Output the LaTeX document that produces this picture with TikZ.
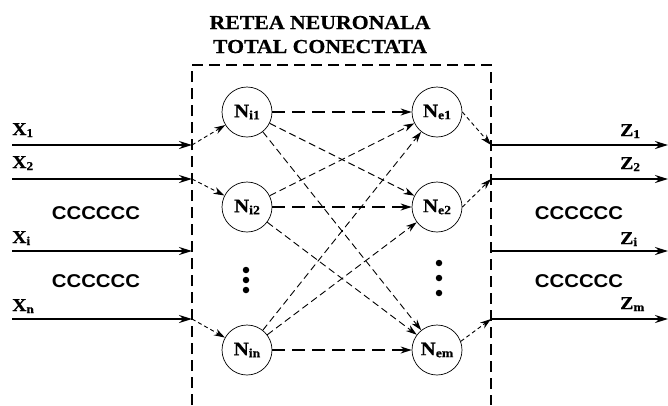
\documentclass[tikz,border=0pt]{standalone}
\usepackage{fontspec}
\usetikzlibrary{arrows.meta}
\newfontfamily\labelserif[FakeStretch=1.1, FakeBold=0.6]{Liberation Serif}
\newfontfamily\labelsans[FakeStretch=1.1]{Liberation Sans}
% main letter with a lowered index: {letter}{index}{size}{index size}
\newcommand\idxlabel[4]{{\fontsize{#3}{#3}\selectfont #1}\raisebox{-2pt}{\fontsize{#4}{#4}\selectfont #2}}

\begin{document}
\begin{tikzpicture}[x=1pt,y=-1pt,
  neuron/.style={draw, circle, minimum size=50pt, inner sep=0pt, line width=0.7pt,
                 font=\labelserif\bfseries},
  iolabel/.style={anchor=base west, inner sep=0pt, font=\labelserif\bfseries},
  filler/.style={inner sep=0pt, font=\labelsans\bfseries\fontsize{18.5}{18.5}\selectfont},
  title/.style={anchor=base, inner sep=0pt, font=\labelserif\bfseries\fontsize{19.8}{19.8}\selectfont},
  signal/.style={line width=1.8pt, -{Stealth[length=13pt,width=8pt]}},
  frame/.style={line width=1.6pt, dash pattern=on 11pt off 6pt},
  direct/.style={line width=1.4pt, dash pattern=on 13pt off 7pt, -{Stealth[length=11pt,width=7pt]}},
  cross/.style={line width=0.9pt, dash pattern=on 7pt off 4pt, -{Stealth[length=11pt,width=7pt]}},
  feed/.style={line width=0.9pt, dash pattern=on 4pt off 3pt, -{Stealth[length=11pt,width=7pt]}},
  dot/.style={fill, circle, inner sep=0pt, minimum size=6.5pt}
]
\useasboundingbox (0,0) rectangle (668,405);

% title
\node[title] (t1) at (320,29) {RETEA NEURONALA};
\node[title] (t2) at (320,53) {TOTAL CONECTATA};

% dashed frame of the network
\draw[frame] (192,405) -- (192,65) -- (491,65) -- (491,405);

% neurons
\node[neuron] (ni1) at (247,112) {\idxlabel{N}{i1}{19}{12.5}};
\node[neuron] (ni2) at (247,207) {\idxlabel{N}{i2}{19}{12.5}};
\node[neuron] (nin) at (247,350) {\idxlabel{N}{in}{19}{12.5}};
\node[neuron] (ne1) at (437,112) {\idxlabel{N}{e1}{19}{12.5}};
\node[neuron] (ne2) at (437,207) {\idxlabel{N}{e2}{19}{12.5}};
\node[neuron] (nem) at (437,350) {\idxlabel{N}{em}{19}{12.5}};

% vertical ellipsis dots
\node[dot] (di1) at (246,270) {};
\node[dot] (di2) at (246,280) {};
\node[dot] (di3) at (246,290) {};
\node[dot] (de1) at (439,263) {};
\node[dot] (de2) at (439,278) {};
\node[dot] (de3) at (439,293) {};

% inputs
\coordinate (x1) at (12,145);  \coordinate (b1) at (192,145);
\coordinate (x2) at (12,179);  \coordinate (b2) at (192,179);
\coordinate (xi) at (12,251);  \coordinate (bi) at (192,251);
\coordinate (xn) at (12,319);  \coordinate (bn) at (192,319);
\draw[signal] (x1) -- (b1);
\draw[signal] (x2) -- (b2);
\draw[signal] (xi) -- (bi);
\draw[signal] (xn) -- (bn);
\node[iolabel] (lx1) at (12,135) {\idxlabel{X}{1}{18}{12}};
\node[iolabel] (lx2) at (12,168) {\idxlabel{X}{2}{18}{12}};
\node[iolabel] (lxi) at (12,243) {\idxlabel{X}{i}{18}{12}};
\node[iolabel] (lxn) at (12,311) {\idxlabel{X}{n}{18}{12}};

% outputs
\coordinate (c1) at (491,145); \coordinate (z1) at (668,145);
\coordinate (c2) at (491,179); \coordinate (z2) at (668,179);
\coordinate (ci) at (491,251); \coordinate (zi) at (668,251);
\coordinate (cm) at (491,319); \coordinate (zm) at (668,319);
\draw[signal] (c1) -- (z1);
\draw[signal] (c2) -- (z2);
\draw[signal] (ci) -- (zi);
\draw[signal] (cm) -- (zm);
\node[iolabel] (lz1) at (620,136) {\idxlabel{Z}{1}{18}{12}};
\node[iolabel] (lz2) at (620,169) {\idxlabel{Z}{2}{18}{12}};
\node[iolabel] (lzi) at (620,244) {\idxlabel{Z}{i}{18}{12}};
\node[iolabel] (lzm) at (620,309) {\idxlabel{Z}{m}{18}{12}};

% filler text between the signal lines
\node[filler] (f1) at (96,213) {CCCCCC};
\node[filler] (f2) at (96,281) {CCCCCC};
\node[filler] (f3) at (579,213) {CCCCCC};
\node[filler] (f4) at (579,281) {CCCCCC};

% inputs into the first layer
\draw[feed] (b1) -- (ni1);
\draw[feed] (b2) -- (ni2);
\draw[feed] (bn) -- (nin);

% direct links
\draw[direct] (ni1) -- (ne1);
\draw[direct] (ni2) -- (ne2);
\draw[direct] (nin) -- (nem);

% cross links
\draw[cross] (ni1) -- (ne2);
\draw[cross] (ni1) -- (nem);
\draw[cross] (ni2) -- (ne1);
\draw[cross] (ni2) -- (nem);
\draw[cross] (nin) -- (ne1);
\draw[cross] (nin) -- (ne2);

% second layer to outputs
\draw[feed] (ne1.east) -- (c1);
\draw[feed] (ne2.east) -- (c2);
\draw[feed] (nem.20) -- (cm);
\end{tikzpicture}
\end{document}
